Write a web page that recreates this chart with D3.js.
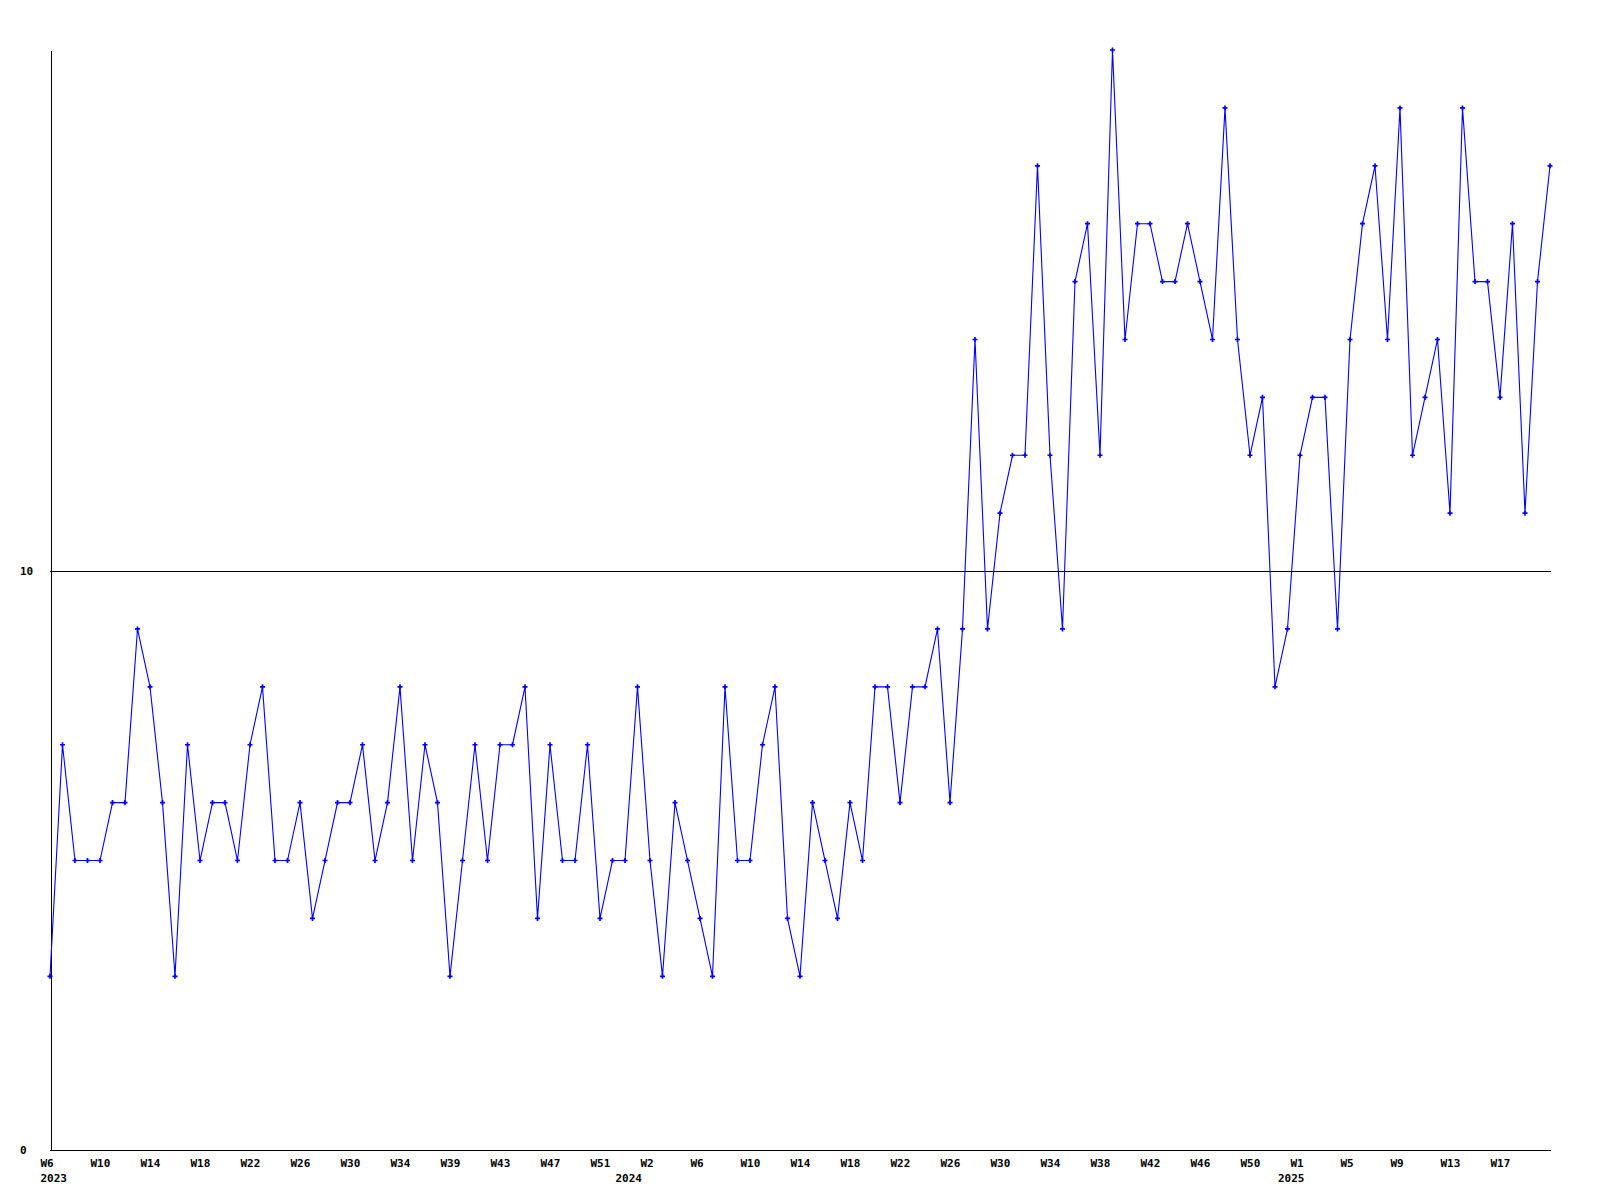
<!DOCTYPE html>
<html><head><meta charset="utf-8">
<script src="https://cdn.jsdelivr.net/npm/d3@7"></script>
<style>
body{margin:0;background:#fff}
text{font-family:"DejaVu Sans Mono","Liberation Mono",monospace;font-weight:bold;font-size:11px;fill:#000}
</style>
</head><body><svg id="c" width="1600" height="1200"></svg>
<script>
// Weekly values, 2023 W6 onward
const values = [
  3,7,5,5,5,6,6,9,8,6,
  3,7,5,6,6,5,7,8,5,5,
  6,4,5,6,6,7,5,6,8,5,
  7,6,3,5,7,5,7,7,8,4,
  7,5,5,7,4,5,5,8,5,3,
  6,5,4,3,8,5,5,7,8,4,
  3,6,5,4,6,5,8,8,6,8,
  8,9,6,9,14,9,11,12,12,17,
  12,9,15,16,12,19,14,16,16,15,
  15,16,15,14,18,14,12,13,8,9,
  12,13,13,9,14,16,17,14,18,12,
  13,14,11,18,15,15,13,16,11,15,
  17
];
// Week labels shown every 4th point
const weekTickLabels = ["W6","W10","W14","W18","W22","W26","W30","W34","W39","W43","W47","W51",
  "W2","W6","W10","W14","W18","W22","W26","W30","W34","W38","W42","W46","W50",
  "W1","W5","W9","W13","W17"];
const weekTickStep = 4;
// Year labels and the point index where each year starts
const yearLabels = ["2023","2024","2025"];
const yearStartIndex = [0,46,99];
const yTickValues = [0,10];
const yMax = 19;
const refValue = 10;

const svg = d3.select("#c");
const L=50, R=1550, T=50, B=1150;
const x = d3.scaleLinear().domain([0, values.length-1]).range([L,R]);
const y = d3.scaleLinear().domain([0,yMax]).range([B,T]);

// reference line at 10
svg.append("line")
  .attr("x1",L).attr("x2",R+1)
  .attr("y1",Math.round(y(refValue))+0.5).attr("y2",Math.round(y(refValue))+0.5)
  .attr("stroke","#000").attr("stroke-width",1).attr("shape-rendering","crispEdges");

// x axis
const xAxis = d3.axisBottom(x)
  .tickValues(weekTickLabels.map((d,i)=>i*weekTickStep))
  .tickFormat((d,i)=>weekTickLabels[i])
  .tickSize(0).tickSizeOuter(0).tickPadding(0);
const gx = svg.append("g").attr("transform",`translate(0,${B+0.5})`).call(xAxis);
gx.select(".domain").attr("stroke","#000").attr("shape-rendering","crispEdges")
  .attr("d",`M${L},0H${R+1}`);
gx.selectAll(".tick text").attr("text-anchor","start").attr("x",-10).attr("y",16.5)
  .attr("dy",null).attr("fill","#000");

// year labels
const xYear = d3.axisBottom(x)
  .tickValues(yearStartIndex)
  .tickFormat((d,i)=>yearLabels[i])
  .tickSize(0).tickSizeOuter(0).tickPadding(0);
const gy2 = svg.append("g").attr("transform",`translate(0,${B+0.5})`).call(xYear);
gy2.select(".domain").remove();
gy2.selectAll(".tick text").attr("text-anchor","start").attr("x",-10).attr("y",31.5)
  .attr("dy",null).attr("fill","#000");

// y axis
const yAxis = d3.axisLeft(y).tickValues(yTickValues).tickFormat(d3.format("d"))
  .tickSize(0).tickSizeOuter(0);
const gy = svg.append("g").attr("transform",`translate(${L+0.5},0)`).call(yAxis);
gy.select(".domain").attr("stroke","#000").attr("shape-rendering","crispEdges");
gy.selectAll(".tick text").attr("text-anchor","start").attr("x",-30.5).attr("dy","0.32em")
  .attr("fill","#000");

// series line
const line = d3.line().x((d,i)=>x(i)).y(d=>y(d));
svg.append("path").datum(values)
  .attr("d",line).attr("fill","none").attr("stroke","#0000ff").attr("stroke-width",1.1);

// markers
const sym = d3.symbol().type(d3.symbolCross).size(14);
svg.append("g").selectAll("path").data(values).join("path")
  .attr("transform",(d,i)=>`translate(${x(i)},${y(d)})`)
  .attr("d",sym).attr("fill","#0000ff");
</script></body></html>
